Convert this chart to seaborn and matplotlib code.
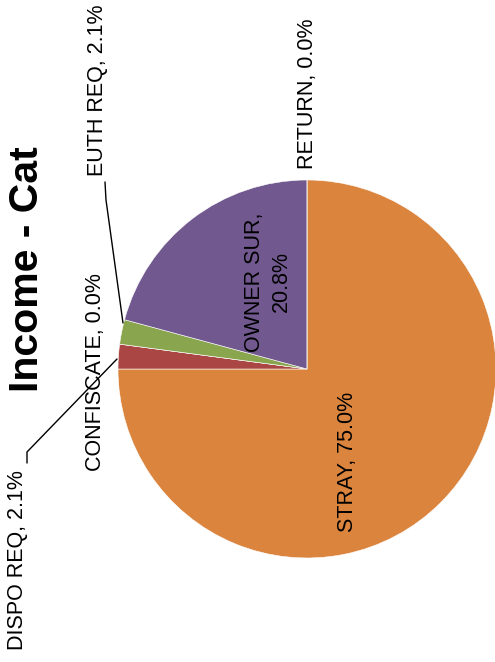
import matplotlib
matplotlib.use("Agg")
import matplotlib.pyplot as plt
import seaborn as sns

sns.set_theme(style="white")
plt.rcParams['font.family'] = ['Liberation Sans', 'DejaVu Sans']

categories = ["STRAY", "DISPO REQ", "CONFISCATE", "EUTH REQ", "OWNER SUR", "RETURN"]
values = [75.0, 2.1, 0.0, 2.1, 20.8, 0.0]
colors = ["#DB843D", "#AA4643", "#4572A7", "#89A54E", "#71588F", "#4198AF"]
title = "Income - Cat"

W, H = 495, 662
fig = plt.figure(figsize=(W / 100, H / 100), dpi=100)
ax = fig.add_axes([0, 0, 1, 1])

def Y(y):
    return H - y

ax.pie(values, colors=colors, startangle=90, counterclock=False,
       radius=189, center=(307, Y(369)),
       wedgeprops=dict(edgecolor="white", linewidth=0.4))
ax.set_xlim(0, W)
ax.set_ylim(0, H)
ax.set_aspect("equal")
ax.axis("off")

fs = 15.5
labels = {
    "STRAY": (347, 462, "STRAY, 75.0%"),
    "DISPO REQ": (18, 560, "DISPO REQ, 2.1%"),
    "CONFISCATE": (96, 372, "CONFISCATE, 0.0%"),
    "EUTH REQ": (97, 90, "EUTH REQ, 2.1%"),
    "OWNER SUR": (268, 282, "OWNER SUR,\n20.8%"),
    "RETURN": (308, 94, "RETURN, 0.0%"),
}
for cat, v in zip(categories, values):
    x, y, txt = labels[cat]
    ax.text(x, Y(y), txt, rotation=90, ha="center", va="center",
            fontsize=fs, color="black", multialignment="center", linespacing=1.35)

# leader lines
ax.plot([105, 106, 123], [Y(182), Y(200), Y(323)], color="black", lw=1)
ax.plot([27, 27, 117], [Y(463), Y(452), Y(359)], color="black", lw=1)

ax.text(27, Y(269), title, rotation=90, ha="center", va="center",
        fontsize=29.5, fontweight="bold", color="black")

fig.savefig("out.png", dpi=100)
